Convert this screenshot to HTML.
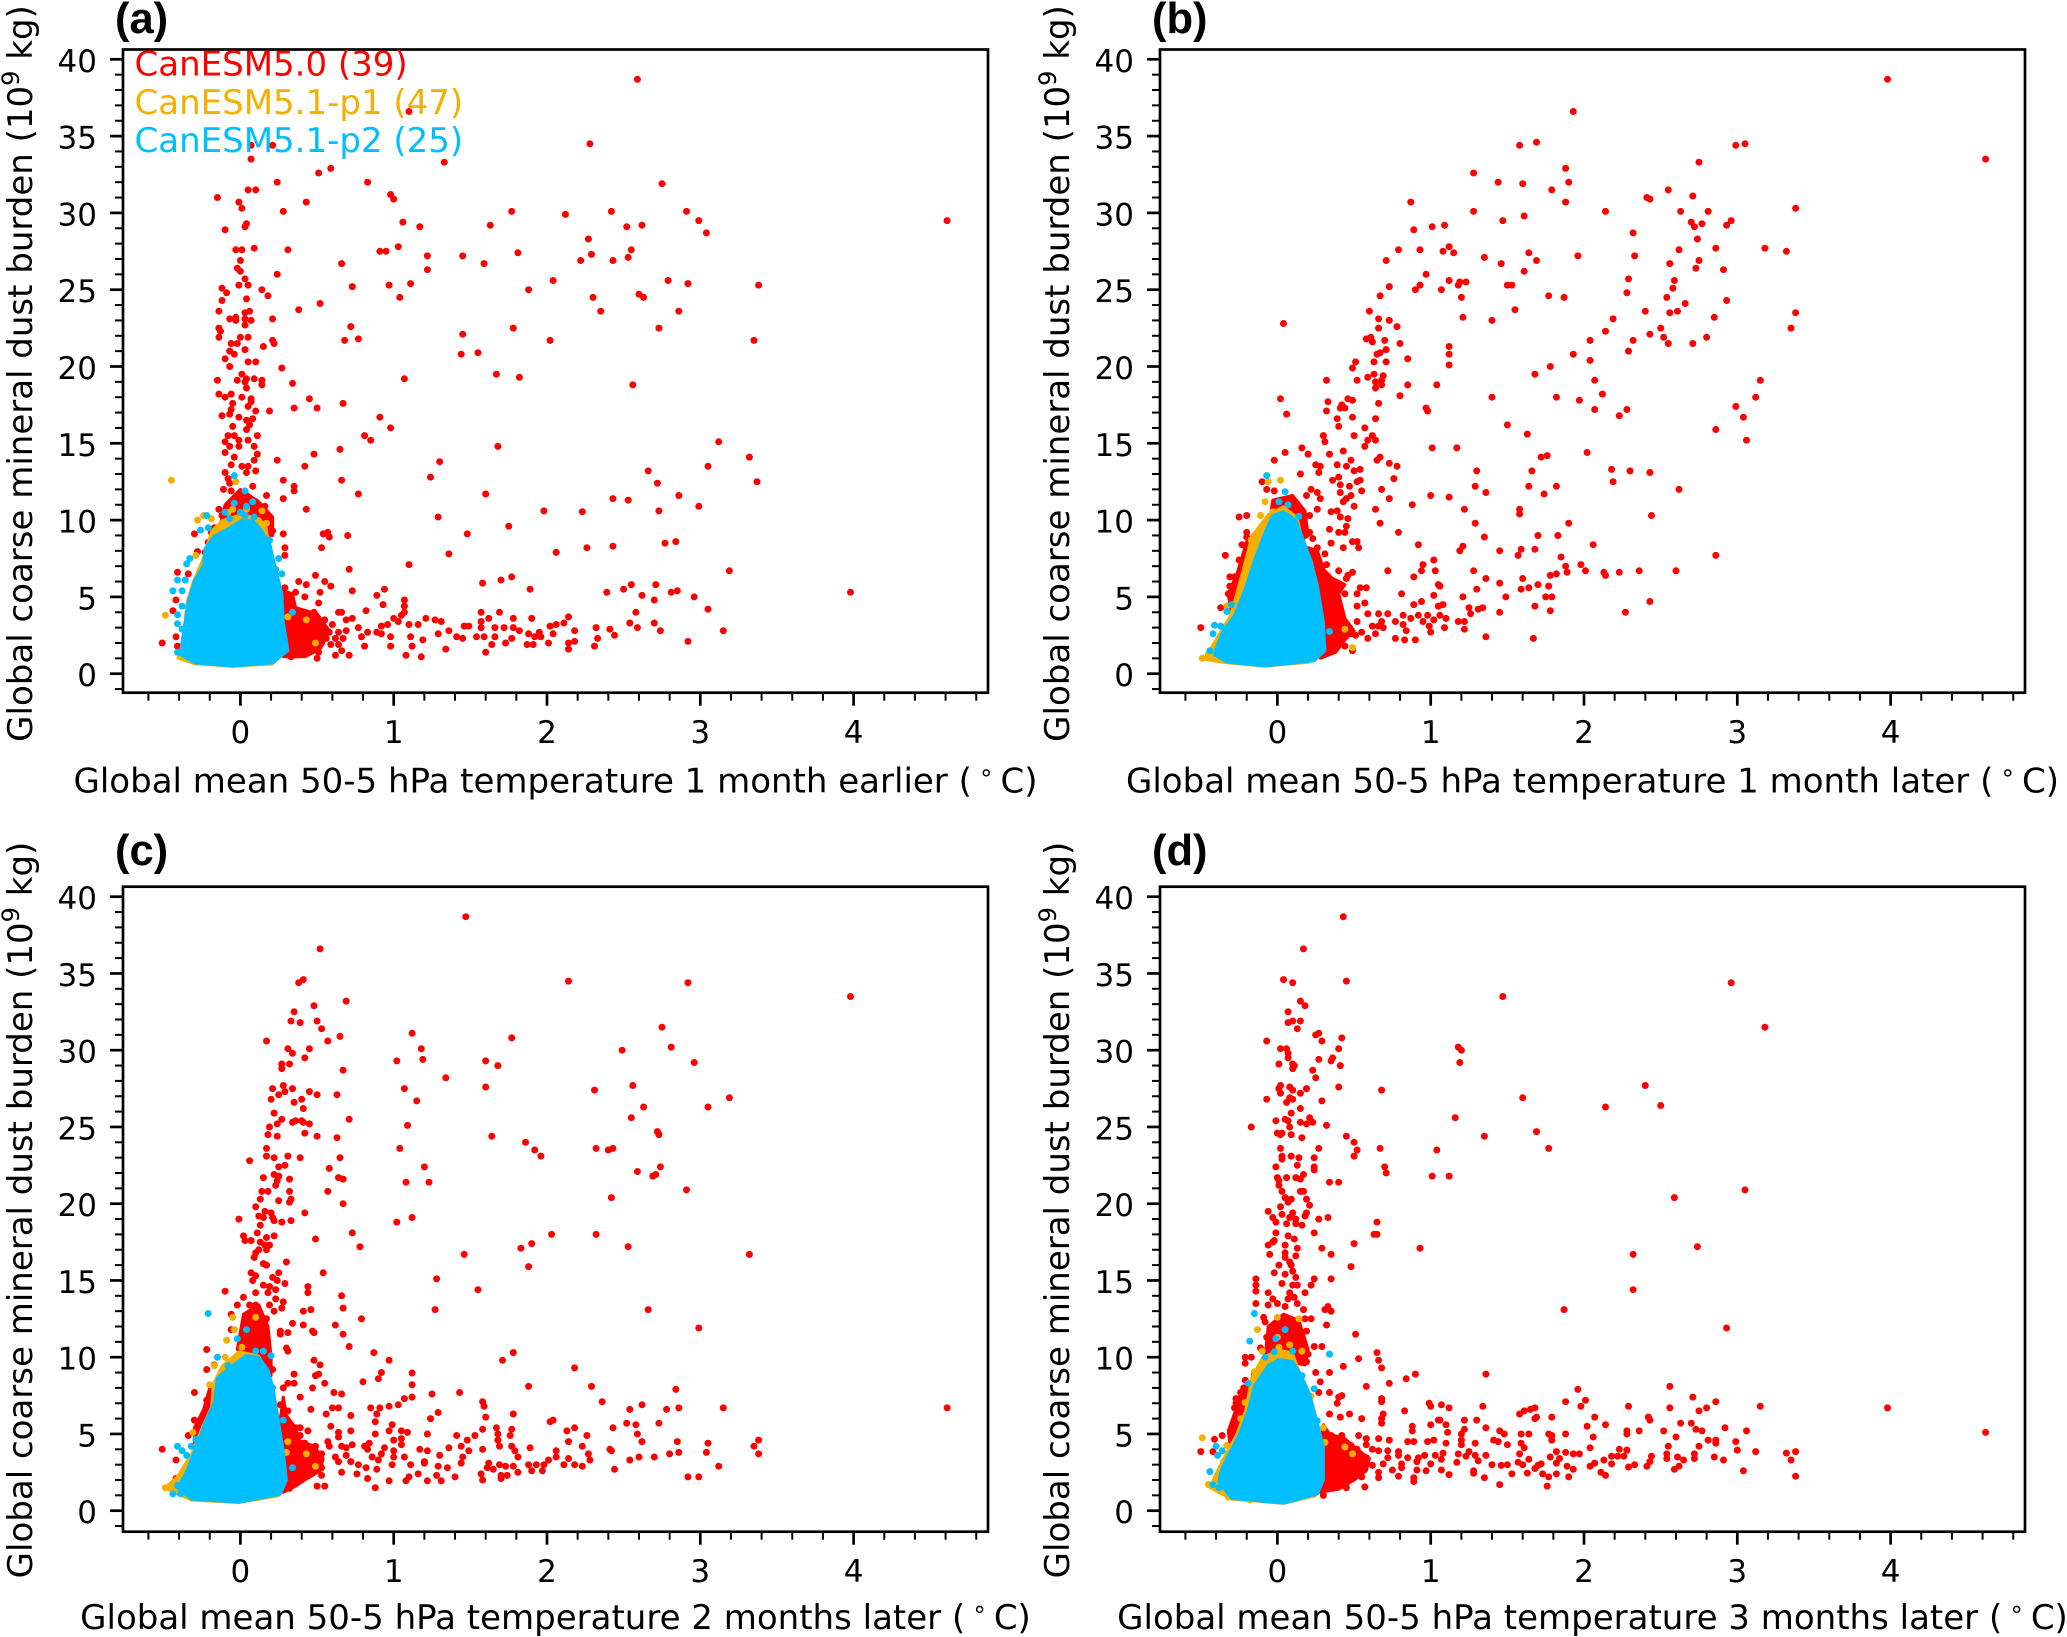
<!DOCTYPE html>
<html lang="en">
<head>
<meta charset="utf-8">
<title>Global coarse mineral dust burden vs stratospheric temperature</title>
<style>
html,body{margin:0;padding:0;background:#fff;}
svg{display:block;}
text{font-family:"DejaVu Sans","Liberation Sans",sans-serif;fill:#000;}
.panel-letter{font-family:"Liberation Sans",Arial,sans-serif;font-weight:bold;font-size:43.5px;}
.lab{font-size:34px;}
.tick{font-size:31px;}
</style>
</head>
<body>
<svg id="figure" xmlns="http://www.w3.org/2000/svg" width="2067" height="1637" viewBox="0 0 2067 1637"></svg>
<script>
const xTickLabels = [0,1,2,3,4];
const xMinorTicks = [-0.6,-0.4,-0.2,0.2,0.4,0.6,0.8,1.2,1.4,1.6,1.8,2.2,2.4,2.6,2.8,3.2,3.4,3.6,3.8,4.2,4.4,4.6,4.8];
const yTickLabels = [0,5,10,15,20,25,30,35,40];
const yMinorTicks = [-1,1,2,3,4,6,7,8,9,11,12,13,14,16,17,18,19,21,22,23,24,26,27,28,29,31,32,33,34,36,37,38,39];
const legendLabels = ["CanESM5.0 (39)","CanESM5.1-p1 (47)","CanESM5.1-p2 (25)"];

const redA = [[2.59,38.7],[1.10,36.6],[.07,34.4],[.21,34.4],[.07,33.5],[2.28,34.5],[1.33,33.3],[.59,32.9],[.51,32.6],[.24,32.0],[.83,32.0],[2.75,31.9],[.05,31.5],[.10,31.5],[-.15,31.0],[.98,31.2],[1.0,30.9],[-.01,30.7],[.43,30.7],[.01,30.3],[.28,30.1],[1.77,30.1],[2.12,29.9],[2.42,30.1],[2.91,30.1],[2.99,29.5],[3.04,28.7],[4.61,29.5],[2.52,29.1],[2.62,29.2],[1.06,29.4],[1.17,29.1],[1.63,29.2],[.04,29.3],[.03,29.1],[-.10,28.9],[2.27,28.3],[2.55,27.6],[-.03,27.6],[.01,27.6],[.09,27.7],[.31,27.6],[.91,27.5],[.95,27.5],[1.03,27.8],[1.22,27.2],[1.45,27.2],[1.81,27.4],[2.29,27.3],[2.53,27.1],[2.43,26.9],[2.22,26.9],[1.59,26.7],[.66,26.7],[0,26.9],[-.02,26.4],[0,26.2],[1.22,26.3],[.24,26.0],[.03,25.7],[2.04,25.6],[2.79,25.6],[2.92,25.4],[3.38,25.3],[-.01,25.3],[.05,25.3],[-.12,25.1],[.73,25.2],[.97,25.3],[1.11,25.4],[.14,25.0],[1.88,25.0],[-.09,24.8],[.18,24.6],[2.60,24.7],[2.63,24.5],[1.04,24.5],[2.30,24.5],[-.12,24.3],[.04,24.4],[.52,24.1],[.38,23.7],[-.14,23.6],[.06,23.6],[.03,23.5],[2.35,23.6],[2.86,23.6],[-.07,23.1],[-.03,23.2],[-.03,23.0],[.07,23.0],[.03,23.1],[.03,22.7],[.21,23.1],[.72,22.6],[1.78,22.5],[2.73,22.5],[-.14,22.5],[-.13,22.3],[-.14,21.9],[0,21.9],[.05,21.9],[1.45,22.1],[.68,21.7],[.77,21.8],[2.02,21.7],[3.35,21.7],[.21,21.7],[.22,21.5],[-.06,21.5],[-.02,21.5],[.15,21.3],[-.07,21.0],[.03,21.1],[-.04,20.8],[1.44,20.8],[1.55,20.9],[-.10,20.5],[.05,20.3],[.10,20.3],[-.07,20.0],[.27,19.9],[1.67,19.5],[1.07,19.2],[1.82,19.3],[2.56,18.8],[-.15,19.1],[.01,19.5],[-.02,19.1],[.04,19.2],[.09,19.2],[.03,19.0],[.14,19.1],[.14,18.8],[.04,18.6],[.34,18.9],[-.14,18.2],[-.10,18.0],[-.06,18.2],[.01,18.0],[.07,17.9],[.07,17.7],[.45,17.9],[.67,17.6],[-.05,17.6],[-.06,17.2],[.05,17.4],[.50,17.3],[.35,17.3],[.19,17.1],[.10,17.1],[-.07,16.9],[-.12,16.8],[-.01,16.7],[.08,16.6],[.04,16.5],[.91,16.7],[-.05,16.1],[.06,16.2],[.98,16.0],[.04,15.9],[-.08,15.5],[-.04,15.5],[.11,15.5],[.81,15.5],[.85,15.2],[-.10,15.1],[-.01,15.2],[.05,15.2],[-.07,14.8],[-.01,14.8],[.09,14.8],[1.68,14.8],[3.12,15.1],[-.10,14.4],[.11,14.3],[.48,14.3],[.65,14.6],[-.04,14.1],[.09,13.9],[.24,13.9],[1.3,13.8],[3.32,14.1],[-.06,13.6],[.01,13.5],[.05,13.5],[.10,13.2],[.42,13.5],[3.05,13.5],[-.10,13.1],[.04,13.1],[2.66,13.2],[-.08,12.7],[1.24,12.8],[.28,12.6],[.66,12.6],[3.37,12.5],[2.72,12.4],[-.07,12.4],[.08,12.2],[.35,12.2],[.35,11.9],[-.11,12.0],[-.06,11.9],[.77,11.7],[1.60,11.7],[.17,11.6],[2.86,11.6],[2.43,11.4],[2.53,11.3],[.28,11.4],[-.14,10.7],[.16,10.9],[.43,10.7],[2.99,10.9],[1.98,10.6],[2.23,10.55],[2.73,10.6],[1.29,10.2],[1.75,9.6],[1.48,9.1],[.57,9.2],[.54,9.1],[.58,8.9],[.70,9.0],[.28,9.1],[.21,9.3],[-.30,9.1],[-.19,9.2],[-.21,8.55],[-.23,7.9],[-.28,7.95],[.10,10.8],[.13,10.4],[.06,11.35],[.01,10.95],[-.06,11.2],[-.12,10.3],[-.17,9.5],[-.01,11.6],[.04,11.6],[.1,11.2],[.16,10.15],[.18,9.75],[.53,8.2],[.29,8.2],[.29,7.7],[1.36,7.8],[2.06,7.9],[2.26,8.2],[2.43,8.3],[2.77,8.5],[2.84,8.6],[1.10,7.1],[.71,6.8],[3.19,6.7],[.49,6.4],[1.77,6.3],[1.70,6.1],[1.58,5.9],[.38,6.0],[.55,6.0],[.43,5.8],[.59,5.7],[2.55,5.8],[2.50,5.5],[2.71,5.8],[1.89,5.5],[.94,5.5],[.73,5.4],[.52,5.3],[.36,5.3],[.89,5.1],[2.39,5.3],[2.81,5.3],[2.85,5.4],[2.62,5.1],[2.96,5.0],[3.98,5.3],[.42,5.0],[2.70,4.8],[1.07,4.8],[.29,5.6],[.28,5.1],[.31,4.8],[.30,4.5],[.33,4.3],[.29,4.2],[.51,4.6],[.93,4.5],[1.07,4.4],[3.05,4.2],[1.57,4.0],[1.69,4.0],[2.58,4.0],[.82,4.1],[.42,4.0],[.48,4.0],[.64,4.0],[.66,4.0],[1.07,4.0],[1.05,3.8],[1.0,3.6],[.96,3.2],[1.03,3.4],[1.21,3.6],[1.27,3.5],[1.31,3.4],[1.10,3.2],[1.16,3.2],[.92,3.1],[2.14,3.7],[1.90,3.6],[1.78,3.6],[1.62,3.6],[1.57,3.4],[2.11,3.3],[2.06,3.2],[2.02,3.1],[2.32,3.0],[2.41,2.9],[2.54,3.3],[2.59,3.0],[2.70,3.3],[2.74,2.8],[3.15,2.8],[2.92,2.1],[2.44,2.5],[2.33,2.3],[2.31,1.8],[2.18,2.8],[2.18,2.1],[2.14,2.0],[2.14,1.6],[2.01,2.0],[1.95,2.7],[1.96,2.4],[1.92,2.4],[1.88,2.6],[1.91,1.9],[1.87,1.9],[1.77,2.3],[1.73,2.0],[1.64,1.9],[1.60,1.4],[1.54,2.4],[1.46,3.1],[1.49,3.1],[1.41,2.4],[1.45,2.3],[1.34,1.6],[1.29,2.6],[1.36,2.8],[1.19,2.2],[1.11,2.4],[1.12,1.8],[1.08,1.2],[1.18,1.1],[.98,2.4],[.92,2.6],[.98,1.8],[.89,2.7],[.83,2.7],[.77,3.0],[.79,2.4],[.81,1.8],[.71,1.2],[.66,1.5],[.50,1.0],[.59,1.9],[.53,2.0],[.69,2.8],[.67,2.3],[.64,1.9],[.62,1.2],[.56,2.3],[.49,2.6],[.46,1.8],[.40,1.5],[.33,1.1],[.37,2.0],[.39,2.6],[.35,3.1],[.31,3.5],[.44,3.4],[.42,2.8],[.55,3.5],[.60,3.2],[.48,3.2],[.53,3.0],[.64,2.7],[.73,3.6],[.69,3.5],[1.57,3.0],[1.66,3.0],[1.72,3.0],[1.59,2.4],[1.66,2.4],[1.78,3.0],[1.82,2.8],[2.04,2.6],[.31,2.8],[.31,2.0],[.35,1.6],[.42,2.2],[.48,2.0],[.51,1.4],[.58,2.7],[.62,2.3],[.31,1.5],[-.41,6.6],[-.34,6.5],[-.42,4.8],[-.44,4.1],[-.42,2.4],[-.51,2.0],[-.41,1.8]];
const orangeA = [[-.45,12.6],[-.49,3.8],[-.28,10.0],[-.08,10.5],[-.05,10.7],[.04,10.7],[.14,10.6],[.17,9.8],[-.03,12.5],[-.24,10.3],[-.19,10.1],[-.29,7.7],[.2,7.2],[.43,3.5],[.49,2.0],[.31,3.7],[-.39,1.1],[-.33,1.5]];
const blueA = [[-.04,12.9],[.03,11.9],[-.04,11.1],[.08,11.2],[.03,10.3],[-.22,10.3],[-.21,9.5],[-.26,9.35],[-.33,7.5],[-.35,7.15],[-.41,6.1],[-.36,6.1],[-.44,5.4],[-.38,5.4],[-.41,3.85],[-.38,4.4],[-.41,3.25],[-.38,2.9],[-.41,1.4],[.19,8.7],[.25,7.5],[.23,6.8],[.27,6.5],[.34,4.0],[0,10.5],[-.07,10.1],[.09,10.2],[.04,10.9],[-.1,10.5]];
const redCoresA = [[[.28,1.1],[.42,1.1],[.52,1.6],[.58,2.8],[.5,3.9],[.36,4.3],[.34,5.2],[.28,5.4]],[[-.14,9.3],[-.1,11.0],[0,12.0],[.12,11.2],[.21,10.2],[.21,9.0]]];
const orangeCoreA = [[-.41,1.0],[-.30,.62],[-.05,.46],[.21,.6],[.3,1.5],[.27,3.37],[.26,5.2],[.2,7.6],[.17,9.5],[.13,10.1],[.01,10.4],[-.12,10.0],[-.19,9.3],[-.25,7.4],[-.31,6.0],[-.35,4.7],[-.38,2.0]];
const blueCoreA = [[-.39,1.24],[-.30,.71],[-.05,.49],[.21,.71],[.31,1.5],[.28,3.37],[.27,5.23],[.24,6.42],[.21,7.62],[.19,8.55],[.13,9.43],[.08,9.96],[.01,10.0],[-.08,9.43],[-.17,8.95],[-.23,8.15],[-.24,7.09],[-.30,6.03],[-.34,4.7],[-.36,3.37],[-.38,2.04]];

const redB = [[3.98,38.7],[1.93,36.6],[1.58,34.4],[1.69,34.6],[2.99,34.4],[3.05,34.5],[2.75,33.3],[4.62,33.5],[1.88,32.9],[1.28,32.6],[1.44,32.0],[1.60,31.9],[1.90,32.0],[1.79,31.5],[2.55,31.5],[2.71,31.1],[2.41,31.0],[2.43,30.9],[.87,30.7],[1.88,30.7],[3.38,30.3],[1.28,30.1],[1.61,29.8],[2.14,30.1],[2.63,30.1],[2.81,30.1],[1.47,29.5],[2.96,29.5],[2.93,29.2],[2.70,29.4],[2.72,29.1],[2.77,29.3],[1.01,29.1],[1.09,29.2],[.89,28.9],[2.32,28.7],[2.74,28.3],[.79,27.6],[.93,27.6],[1.08,27.5],[1.12,27.8],[1.15,27.4],[1.35,27.1],[1.64,27.4],[1.96,27.2],[2.33,27.2],[2.62,27.6],[2.86,27.7],[3.18,27.7],[3.32,27.5],[1.69,26.9],[1.46,26.7],[.71,26.9],[2.56,26.7],[2.75,26.9],[2.73,26.4],[2.91,26.3],[1.61,26.2],[.97,26.0],[1.12,25.6],[1.19,25.5],[1.23,25.5],[1.18,25.3],[2.29,25.7],[2.59,25.6],[.93,25.3],[.73,25.2],[.90,25.0],[1.07,25.0],[1.50,25.3],[1.53,25.3],[2.58,25.1],[2.28,24.8],[.67,24.6],[1.20,24.5],[1.77,24.6],[1.87,24.5],[2.54,24.5],[2.93,24.3],[2.66,24.1],[.60,23.6],[1.55,23.7],[2.40,23.6],[2.56,23.5],[2.61,23.6],[3.38,23.5],[.04,22.8],[.66,23.1],[.73,23.0],[1.21,23.2],[1.40,23.0],[2.19,23.1],[2.85,23.2],[.78,22.6],[.66,22.5],[2.14,22.3],[2.50,22.5],[3.35,22.5],[2.43,22.1],[2.52,21.9],[2.80,21.9],[2.32,21.7],[2.04,21.7],[.58,21.8],[.61,21.9],[.62,21.6],[.70,21.7],[.80,21.5],[2.55,21.5],[2.71,21.5],[1.12,21.3],[.71,21.1],[2.29,21.0],[.65,20.8],[.67,20.9],[1.12,20.8],[1.93,20.8],[.85,20.5],[.51,20.3],[.63,20.3],[.71,20.3],[2.04,20.4],[1.12,20.1],[1.78,20.0],[.49,19.9],[1.68,19.5],[.59,19.3],[.63,19.5],[.69,19.4],[.32,19.1],[.52,19.1],[2.07,19.1],[3.15,19.1],[.64,19.0],[.68,19.1],[.85,18.8],[1.04,18.8],[.68,18.8],[.64,18.6],[.80,18.1],[2.12,18.2],[.02,17.9],[.46,17.9],[.49,17.8],[1.40,18.0],[1.82,18.0],[3.12,18.0],[.33,17.7],[.66,17.6],[1.97,17.8],[.42,17.5],[.41,17.3],[.44,17.3],[.97,17.3],[.32,17.1],[.98,17.1],[2.07,17.2],[2.28,17.2],[2.99,17.4],[.06,16.9],[.49,16.7],[.64,16.6],[2.23,16.8],[3.04,16.7],[.39,16.6],[.40,16.1],[1.50,16.2],[.57,16.0],[2.86,15.9],[.30,15.5],[.50,15.5],[1.63,15.6],[.62,15.5],[.31,15.1],[.59,15.2],[.64,15.2],[3.06,15.2],[.57,14.8],[.16,14.7],[1.01,14.7],[1.17,14.7],[.43,14.5],[.05,14.4],[.20,14.3],[.34,14.3],[2.02,14.4],[1.76,14.2],[1.72,14.1],[-.02,13.9],[.48,13.9],[.67,14.1],[.65,13.9],[.25,13.6],[.28,13.5],[.39,13.6],[.45,13.5],[.54,13.3],[.50,13.2],[.73,13.7],[.78,13.5],[1.30,13.2],[1.66,13.2],[2.18,13.3],[2.30,13.2],[2.43,13.1],[.15,13.0],[.27,13.1],[.40,12.8],[.36,12.6],[.76,12.7],[.52,12.5],[.54,12.6],[2.19,12.5],[-.10,12.5],[1.29,12.2],[1.64,12.2],[1.82,12.2],[.41,12.3],[.47,12.2],[2.62,12.0],[.68,12.0],[.55,11.9],[-.07,12.0],[-.02,11.9],[.22,12.0],[1.36,11.8],[1.0,11.6],[1.12,11.5],[1.74,11.7],[.41,11.8],[.19,11.6],[.26,11.8],[.48,11.6],[.45,11.4],[.28,11.4],[.73,11.4],[.43,11.2],[.88,11.0],[.50,10.9],[1.22,10.7],[1.58,10.7],[1.58,10.4],[.64,10.7],[.13,10.9],[.26,10.7],[.35,10.55],[.39,10.6],[2.44,10.3],[-.25,10.2],[-.20,10.3],[.41,10.2],[.46,10.1],[.67,9.8],[.21,10.3],[1.29,9.8],[1.90,9.8],[.45,9.6],[.34,9.4],[.79,9.2],[.21,9.2],[.40,9.2],[.44,9.2],[-.20,9.2],[-.20,8.9],[1.70,9.0],[1.83,9.0],[.23,8.8],[1.35,8.9],[.49,8.6],[.52,8.6],[.35,8.5],[.92,8.4],[2.06,8.4],[-.23,8.4],[.26,8.2],[.43,8.2],[.53,8.2],[1.21,8.3],[1.19,8.0],[1.45,8.0],[1.59,8.1],[1.68,8.1],[1.57,7.7],[1.85,7.6],[2.86,7.7],[-.34,7.7],[.31,7.8],[.25,7.6],[-.25,7.4],[1.02,7.4],[.32,7.1],[.95,7.1],[1.98,7.1],[1.88,7.0],[.72,6.7],[.94,6.7],[1.03,6.7],[1.28,6.7],[1.89,6.6],[2.01,6.7],[2.13,6.6],[2.23,6.6],[2.36,6.7],[2.60,6.7],[2.14,6.4],[.40,6.7],[.46,6.4],[.49,6.6],[.45,6.2],[1.82,6.5],[1.78,6.4],[-.31,6.3],[-.28,6.3],[-.22,6.7],[.89,6.3],[1.36,6.2],[1.60,6.2],[1.05,5.8],[1.06,5.7],[1.45,5.9],[1.70,5.8],[1.77,5.7],[-.31,5.7],[.39,5.8],[.54,5.6],[.58,5.6],[1.59,5.5],[1.64,5.6],[1.30,5.5],[.33,5.4],[.44,5.2],[-.32,5.2],[.37,5.2],[.52,5.2],[.81,5.2],[1.02,5.1],[1.21,5.0],[1.49,5.0],[1.75,5.0],[1.79,5.0],[-.28,5.0],[2.43,4.7],[.57,4.6],[.52,4.4],[.89,4.5],[.94,4.7],[1.08,4.5],[1.05,4.4],[1.68,4.4],[1.25,4.3],[1.31,4.2],[1.34,4.3],[-.37,4.3],[.37,4.4],[1.78,4.1],[2.27,4.0],[1.26,3.9],[1.45,4.0],[.59,3.9],[.66,3.9],[.72,3.9],[.42,3.7],[.82,3.8],[.87,3.6],[.92,3.8],[.98,3.8],[1.06,3.8],[1.10,3.6],[1.02,3.5],[1.18,3.4],[1.22,3.4],[.52,3.4],[.77,3.4],[.68,3.4],[.95,3.4],[.82,3.2],[.62,3.1],[.66,3.1],[.69,3.0],[.99,3.1],[1.09,3.0],[1.22,2.9],[.84,2.8],[1.0,2.7],[.55,2.7],[.64,2.6],[.48,2.6],[.51,2.5],[.40,2.4],[.59,2.3],[.77,2.3],[.83,2.2],[.90,2.2],[1.36,2.4],[1.67,2.3],[.49,1.5],[.44,1.8],[.37,1.7],[.39,2.2],[.35,2.8],[.33,3.4],[-.50,3.0]];
const orangeB = [[-.49,1.0],[-.45,1.25],[.49,1.7],[.44,2.9],[-.06,12.5],[.02,12.6],[-.08,11.2],[-.11,10.3],[-.03,10.55],[-.17,8.7],[-.15,9.0],[-.14,8.55],[-.17,8.0],[-.15,7.6],[-.33,4.4],[-.23,5.55]];
const blueB = [[-.07,12.9],[.05,11.85],[.01,11.2],[.07,11.0],[.14,10.25],[-.30,4.5],[-.41,3.15],[-.37,3.1],[-.42,2.6],[-.44,1.5],[.34,2.75],[.24,5.9],[-.33,4.05]];
const redCoresB = [[[.28,1.0],[.38,1.4],[.44,2.2],[.5,2.8],[.44,3.6],[.4,5.2],[.44,5.8],[.36,6.2],[.3,6.8],[.28,5]],[[-.05,10.0],[-.03,11.3],[.1,11.6],[.18,10.6],[.2,9.0],[.15,8.6]],[[-.3,3.8],[-.32,5.2],[-.26,6.6],[-.2,8.6],[-.16,8.6],[-.2,6.5],[-.24,5],[-.28,3.8]],[[.2,8.2],[.26,8.0],[.31,6.6],[.33,5],[.3,4],[.27,6]]];
const orangeCoreB = [[-.48,.92],[-.33,.68],[-.08,.46],[.2,.7],[.3,1.5],[.28,3.37],[.24,5.76],[.2,7.35],[.16,8.95],[.13,10.2],[.04,10.9],[-.06,10.4],[-.17,8.95],[-.21,7.35],[-.26,5.5],[-.31,3.77],[-.41,2.1]];
const blueCoreB = [[-.41,1.24],[-.33,.76],[-.08,.5],[.24,.84],[.31,1.5],[.30,3.37],[.26,5.76],[.22,7.35],[.16,8.95],[.12,10.0],[.04,10.55],[-.03,10.3],[-.08,9.2],[-.15,7.35],[-.21,5.5],[-.28,3.77],[-.35,2.84],[-.39,1.9]];

const redC = [[1.47,38.7],[.52,36.6],[.38,34.4],[.41,34.6],[2.14,34.5],[2.92,34.4],[3.98,33.5],[.69,33.2],[.48,32.9],[.35,32.5],[.33,31.9],[.39,31.8],[.50,31.9],[.53,31.4],[2.75,31.5],[1.12,31.1],[1.77,30.8],[.17,30.6],[.57,30.6],[.65,30.9],[1.18,30.1],[.31,30.1],[.45,30.1],[.34,29.8],[2.49,30.0],[2.81,30.2],[.42,29.5],[1.02,29.3],[1.19,29.4],[1.60,29.3],[1.68,29.0],[2.96,29.2],[.32,29.1],[.27,29.1],[.27,28.8],[.67,28.7],[1.34,28.2],[2.56,27.7],[.28,27.7],[.21,27.5],[.34,27.5],[.29,27.3],[.25,27.1],[.45,27.3],[.50,27.1],[.63,27.1],[1.07,27.5],[1.60,27.6],[2.31,27.4],[.20,26.8],[.40,26.8],[.35,26.6],[1.15,26.7],[3.19,26.9],[.41,26.2],[2.63,26.3],[3.05,26.3],[.22,25.9],[.27,25.5],[.71,25.5],[2.55,25.6],[.34,25.3],[.36,25.4],[.40,25.4],[.41,25.3],[.45,25.2],[.24,25.2],[.19,25.0],[1.09,25.1],[.42,24.6],[.18,24.5],[.24,24.4],[.50,24.4],[.63,24.3],[1.64,24.4],[2.72,24.7],[2.73,24.5],[1.86,24.0],[1.92,23.5],[1.96,23.1],[.17,23.6],[1.04,23.6],[2.32,23.6],[2.40,23.5],[2.43,23.6],[.17,23.1],[.22,23.0],[.31,23.1],[.39,23.0],[.65,23.0],[.06,22.8],[.25,22.4],[.29,22.5],[.58,22.3],[1.20,22.4],[2.74,22.4],[2.59,22.1],[2.69,21.8],[2.71,21.9],[.15,21.7],[.22,21.9],[.25,21.8],[.24,21.5],[.23,21.2],[.32,21.6],[.64,21.7],[.67,21.6],[1.08,21.4],[1.23,21.4],[.14,20.8],[.18,20.8],[.32,20.8],[.57,20.8],[2.91,20.9],[2.42,20.4],[.13,20.3],[.25,20.2],[.33,20.3],[.32,20.1],[.10,19.8],[.67,20.0],[.16,19.5],[.42,19.4],[.12,19.2],[.15,19.1],[.20,19.4],[.21,19.1],[-.01,19.0],[.22,18.9],[1.12,19.1],[1.02,18.8],[.27,18.8],[.33,18.9],[.13,18.6],[.73,18.1],[2.03,18.0],[2.32,18.0],[.11,18.1],[.02,17.9],[.17,17.8],[.22,17.9],[.49,17.7],[.03,17.6],[.07,17.6],[.13,17.5],[.16,17.3],[.19,17.3],[.78,17.2],[1.90,17.4],[1.83,17.1],[2.53,17.2],[.12,17.0],[.17,17.0],[.10,16.8],[.09,16.5],[1.46,16.7],[3.32,16.7],[.15,16.1],[.17,16.0],[.30,16.2],[1.88,15.9],[.07,15.5],[.25,15.5],[.54,15.5],[.10,15.3],[.08,15.0],[.21,15.2],[.24,15.0],[1.28,15.1],[.15,14.7],[.29,14.8],[.19,14.6],[.44,14.6],[.44,14.2],[-.10,14.3],[.10,14.2],[.18,14.2],[.23,14.4],[1.55,14.4],[.02,13.9],[.66,14.0],[.23,13.8],[.28,13.6],[-.02,13.4],[.06,13.4],[.10,13.4],[.19,13.4],[.67,13.2],[.27,13.2],[1.27,13.1],[2.66,13.1],[.41,13.0],[.46,13.1],[.22,13.0],[-.06,12.8],[.17,12.5],[.79,12.5],[.34,12.2],[.41,12.1],[.62,12.1],[2.99,11.9],[.13,12.0],[-.06,11.8],[.47,11.7],[.48,11.6],[.26,11.7],[.26,11.5],[.31,11.6],[.67,11.5],[.10,11.4],[.15,11.4],[.08,11.0],[.71,10.7],[.15,10.8],[.06,10.6],[.30,10.6],[.31,10.4],[-.22,10.5],[.87,10.3],[1.78,10.3],[1.71,9.8],[.97,9.8],[.48,9.8],[.52,9.5],[2.18,9.3],[-.17,9.5],[-.22,9.2],[.16,9.1],[.21,9.2],[.35,8.9],[.49,8.8],[.51,8.9],[.92,9.0],[1.12,8.97],[.90,8.6],[.18,8.8],[.31,8.3],[.35,8.3],[.55,8.3],[.80,8.4],[1.12,8.2],[1.88,8.1],[2.29,8.1],[2.84,7.9],[.47,8.0],[.28,8.0],[-.30,7.7],[.61,7.7],[.66,7.6],[1.25,7.6],[1.43,7.7],[.39,7.4],[1.07,7.3],[1.12,7.4],[-.22,7.2],[2.36,7.1],[1.58,7.1],[1.59,6.8],[2.62,6.9],[.26,6.9],[2.86,6.7],[3.15,6.7],[4.61,6.7],[.85,6.7],[.91,6.7],[.97,6.8],[1.03,6.9],[.60,6.7],[.64,6.7],[.31,6.5],[.46,6.6],[2.54,6.6],[2.78,6.6],[.89,6.3],[1.29,6.4],[1.78,6.3],[.56,6.3],[-.24,6.3],[-.21,6.4],[.72,6.2],[1.24,6.0],[1.60,6.1],[2.02,5.8],[2.04,5.9],[.88,5.8],[-.30,5.9],[2.52,5.7],[2.73,5.7],[2.58,5.6],[.59,5.5],[.99,5.6],[.36,5.4],[.39,5.4],[1.58,5.3],[1.67,5.4],[1.77,5.3],[2.18,5.4],[2.43,5.4],[.44,5.2],[.72,5.2],[.97,5.2],[1.05,5.2],[1.09,5.1],[2.13,5.2],[2.59,5.0],[1.22,5.0],[.39,4.9],[.64,5.1],[.64,4.8],[.88,5.0],[1.41,4.9],[1.53,4.9],[1.68,5.0],[1.76,4.9],[2.26,4.9],[-.34,4.9],[.33,4.8],[1.0,4.6],[1.05,4.7],[1.48,4.6],[1.68,4.6],[2.14,4.5],[2.62,4.5],[2.85,4.5],[3.05,4.4],[3.38,4.6],[.57,4.5],[.36,4.4],[.42,4.4],[.73,4.3],[.84,4.4],[1.05,4.3],[1.69,4.2],[.81,4.2],[.49,4.2],[.58,4.2],[.66,4.2],[.69,4.1],[3.35,4.2],[1.58,4.0],[1.49,3.9],[1.44,4.2],[1.36,4.1],[1.22,3.9],[1.17,4.0],[.94,4.1],[.92,3.7],[1.0,3.9],[.83,4.0],[1.77,4.2],[1.89,4.1],[1.79,3.9],[2.06,3.9],[2.23,4.2],[2.41,4.0],[2.42,3.9],[2.80,3.7],[2.86,3.8],[3.04,3.8],[3.38,3.7],[2.70,3.5],[2.60,3.5],[2.54,3.3],[2.44,2.7],[2.28,3.3],[2.27,3.7],[2.14,3.4],[2.06,3.5],[2.01,3.3],[2.18,3.0],[2.23,2.9],[2.11,3.0],[1.98,3.0],[1.93,3.0],[1.88,3.0],[1.81,3.5],[1.78,2.9],[1.73,2.9],[1.69,3.0],[1.62,3.1],[1.45,3.5],[1.30,3.6],[1.20,3.2],[1.07,3.5],[1.0,3.5],[.90,3.3],[.86,3.5],[.69,3.6],[.62,3.5],[.53,3.7],[.44,3.7],[.37,3.7],[.39,3.3],[.51,3.3],[.45,3.1],[.48,2.8],[.64,3.2],[.72,3.2],[.77,3.0],[.82,2.8],[.99,3.0],[1.11,3.0],[1.2,3.1],[1.29,2.9],[1.35,2.8],[1.44,3.1],[1.61,2.8],[1.65,2.7],[1.81,2.5],[1.90,2.6],[1.97,2.6],[3.12,2.9],[1.74,2.3],[1.70,2.3],[1.57,2.4],[1.40,2.2],[1.28,2.3],[1.16,2.4],[1.10,2.2],[.89,2.7],[.83,2.1],[.76,2.4],[.66,2.5],[.53,2.3],[.53,2.8],[.42,2.3],[.33,2.1],[.97,1.95],[1.08,1.95],[1.22,1.95],[1.31,1.95],[1.58,2.0],[1.70,2.1],[2.92,2.2],[2.99,2.2],[.50,1.6],[.55,1.6],[.88,1.5],[.32,1.45],[-.51,4.0],[-.42,3.3],[-.42,2.1]];
const orangeC = [[-.05,12.6],[.1,12.6],[-.04,11.8],[-.09,11.1],[.01,10.65],[-.17,9.45],[-.10,10.0],[-.2,8.2],[-.31,5.1],[.31,4.5],[.30,3.8],[.43,3.7],[.49,2.9],[-.49,1.5],[-.45,1.6]];
const blueC = [[-.21,12.85],[.04,11.8],[-.02,11.2],[.1,10.4],[.15,10.4],[.2,10.1],[-.15,10.0],[-.08,9.45],[.21,8.0],[-.41,4.2],[-.38,3.9],[-.32,4.2],[-.29,4.65],[-.35,3.6],[.28,5.9],[.34,2.8],[-.44,1.1],[-.39,1.1],[-.41,1.65]];
const redCoresC = [[[.28,1.2],[.36,1.6],[.42,2.0],[.52,2.6],[.54,3.4],[.48,4.2],[.38,4.6],[.36,5.4],[.3,6.2],[.28,7.4],[.26,6]],[[-.02,10.5],[.02,12.8],[.12,13.4],[.18,12],[.2,10],[.2,8.8],[.12,9.5]],[[-.3,4],[-.3,5.4],[-.24,6.6],[-.2,8],[-.17,8],[-.2,6.5],[-.27,4.5]]];
const orangeCoreC = [[-.50,1.47],[-.32,.66],[-.01,.5],[.25,.94],[.29,2.0],[.27,3.87],[.24,5.73],[.2,8.12],[.17,9.3],[.12,10.1],[-.01,10.4],[-.12,9.45],[-.18,8.25],[-.19,6.79],[-.25,5.46],[-.32,3.73],[-.41,2.27]];
const blueCoreC = [[-.41,1.47],[-.32,.76],[-.01,.55],[.26,1.08],[.30,2.0],[.28,3.87],[.25,5.73],[.21,8.12],[.18,9.18],[.12,9.98],[.04,10.11],[-.05,9.45],[-.15,8.65],[-.17,7.05],[-.23,5.73],[-.30,3.87],[-.35,2.54]];

const redD = [[.43,38.7],[.17,36.6],[.04,34.6],[.10,34.4],[.45,34.5],[2.96,34.4],[1.47,33.5],[.15,33.2],[.18,32.9],[.07,32.5],[.15,31.9],[.10,31.9],[.07,31.8],[.13,31.4],[3.18,31.5],[.25,31.0],[.27,31.1],[.42,30.8],[-.07,30.6],[.29,30.6],[.40,30.1],[.02,30.1],[.06,30.1],[1.18,30.2],[1.20,30.0],[.07,29.8],[.07,29.5],[.27,29.4],[.36,29.5],[.35,29.3],[.01,29.1],[.10,29.1],[.11,29.0],[.41,29.0],[1.19,29.2],[.10,28.8],[.23,28.7],[.25,28.2],[2.40,27.7],[.02,27.7],[.08,27.6],[.40,27.6],[.01,27.5],[.10,27.4],[.19,27.5],[.68,27.4],[.02,27.2],[.15,27.2],[.08,26.9],[-.07,26.8],[.06,26.6],[.10,26.8],[.29,26.7],[1.60,26.9],[2.14,26.3],[2.50,26.4],[.15,26.2],[.09,25.9],[1.16,25.6],[.21,25.6],[.05,25.5],[-.01,25.4],[.07,25.4],[.15,25.3],[.19,25.2],[.23,25.3],[.08,25.0],[.32,25.1],[-.17,25.0],[1.69,24.7],[0,24.6],[.02,24.5],[.03,24.6],[.09,24.5],[.16,24.3],[1.35,24.4],[.45,24.4],[.50,24.0],[.27,23.6],[.02,23.6],[.67,23.6],[1.77,23.6],[.52,23.5],[1.04,23.5],[.09,23.1],[.03,23.1],[.03,22.9],[.14,23.0],[.24,23.0],[.50,23.1],[-.01,22.4],[.13,22.5],[.24,22.4],[.24,22.2],[.70,22.4],[.71,22.0],[1.01,21.8],[1.12,21.8],[.17,21.9],[.06,21.7],[.12,21.7],[.15,21.6],[0,21.7],[.01,21.5],[.34,21.4],[.40,21.4],[.01,21.2],[.03,20.8],[.15,20.8],[.17,20.8],[3.05,20.9],[2.59,20.4],[.05,20.4],[.07,20.1],[.09,20.3],[.19,20.3],[.21,19.9],[.02,19.8],[-.06,19.5],[.03,19.3],[.10,19.4],[.19,19.4],[.18,19.2],[-.03,19.1],[.08,19.1],[.12,19.0],[.27,19.0],[.33,19.1],[-.01,18.8],[.06,18.7],[.12,18.7],[.16,18.6],[.65,18.8],[.24,18.1],[.63,18.0],[.65,18.0],[-.01,18.1],[.07,17.9],[.11,17.7],[-.02,17.6],[-.03,17.5],[-.06,17.3],[.05,17.3],[.13,17.1],[.29,17.1],[.50,17.4],[2.74,17.2],[.93,17.1],[-.05,16.7],[.05,16.8],[.05,16.5],[.12,16.6],[.35,16.7],[2.32,16.7],[.08,16.2],[.01,16.0],[.09,16.0],[.48,15.9],[-.02,15.5],[.05,15.4],[.10,15.6],[.12,15.2],[.24,15.1],[.35,15.1],[-.14,15.1],[-.14,14.7],[-.14,14.3],[.03,14.8],[.10,14.7],[.13,14.7],[.22,14.7],[2.32,14.4],[-.06,14.2],[.08,14.2],[.18,14.2],[.11,13.9],[-.03,13.8],[.07,13.8],[-.14,13.5],[-.06,13.4],[0,13.5],[.05,13.3],[.13,13.5],[.17,13.1],[.33,13.3],[.31,13.1],[.35,13.0],[1.87,13.1],[-.09,12.6],[-.08,12.3],[.07,12.5],[.18,12.5],[.22,12.5],[.32,12.1],[2.93,11.9],[.02,12.2],[-.01,11.8],[.10,12.0],[.13,11.7],[.19,11.7],[-.03,11.6],[.51,11.5],[-.07,11.3],[.03,11.3],[-.11,10.6],[.24,10.7],[.29,10.7],[.09,11.0],[.65,10.3],[.20,10.2],[-.21,10.0],[-.17,10.0],[.66,9.8],[.53,9.9],[-.21,9.6],[.19,9.7],[.68,9.3],[.43,9.4],[1.36,8.9],[.90,8.9],[.84,8.6],[.34,9.0],[.25,9.0],[-.15,8.9],[-.21,8.5],[.73,8.3],[.58,8.1],[2.56,8.1],[1.96,7.9],[-.22,8.0],[.28,8.4],[.27,7.7],[.34,7.7],[-.24,7.7],[2.71,7.4],[2.01,7.2],[1.88,7.1],[2.86,7.1],[.42,7.5],[.40,7.4],[.68,7.3],[.68,7.1],[.39,7.0],[-.27,7.3],[-.27,7.0],[.99,7.0],[1.0,6.8],[1.07,6.9],[1.12,6.7],[1.34,6.8],[2.29,6.8],[1.98,6.8],[3.15,6.8],[3.98,6.7],[4.62,5.1],[-.28,6.7],[2.56,6.7],[2.80,6.7],[2.75,6.5],[1.68,6.7],[1.65,6.6],[1.61,6.5],[1.58,6.3],[1.68,6.0],[1.69,6.1],[.83,6.5],[.69,6.3],[.34,6.3],[.47,6.3],[.41,6.1],[.55,6.0],[1.79,6.1],[2.07,6.1],[2.42,6.1],[2.43,5.9],[.68,6.0],[.68,5.7],[1.05,5.9],[1.06,5.9],[1.22,5.9],[1.30,5.9],[2.63,5.7],[2.70,5.7],[2.14,5.6],[1.0,5.6],[1.1,5.6],[2.02,5.5],[2.92,5.4],[-.25,6.1],[.88,5.5],[.88,5.2],[1.22,5.3],[1.36,5.4],[1.45,5.2],[2.36,5.2],[2.73,5.3],[2.77,5.2],[3.06,5.2],[2.52,5.2],[2.28,5.2],[2.28,5.0],[1.11,5.1],[1.2,5.0],[1.48,5.0],[1.59,5.0],[1.64,5.0],[1.77,5.0],[1.79,4.9],[1.88,5.0],[2.06,4.8],[2.60,4.8],[2.81,4.6],[2.86,4.6],[2.86,4.4],[2.99,4.5],[.35,4.9],[.42,4.9],[.53,4.9],[.58,4.7],[.66,4.7],[.73,4.6],[.85,4.5],[.89,4.5],[.98,4.5],[1.02,4.6],[1.10,4.4],[1.20,4.6],[1.2,4.3],[1.29,4.4],[1.41,4.6],[1.44,4.5],[1.59,4.4],[1.50,4.3],[1.79,4.6],[1.61,4.1],[2.04,4.1],[2.23,4.0],[2.28,3.95],[2.55,4.2],[2.75,4.2],[3.0,3.95],[3.12,3.85],[3.32,3.75],[3.38,3.85],[3.35,3.3],[3.38,2.25],[3.04,2.6],[2.91,3.3],[2.85,3.5],[2.72,3.7],[2.72,3.4],[2.65,3.3],[2.61,3.5],[2.54,3.7],[2.54,3.4],[2.44,3.55],[2.43,3.2],[2.41,2.9],[2.62,2.9],[2.59,2.7],[2.33,3.0],[2.29,2.85],[2.26,3.55],[2.22,3.55],[2.18,3.55],[2.18,3.05],[2.13,3.3],[2.07,3.1],[2.04,2.9],[2.11,2.5],[2.14,2.3],[1.97,3.7],[1.93,3.7],[1.88,3.8],[1.82,3.85],[1.78,3.5],[1.84,3.4],[1.82,3.1],[1.89,2.9],[1.93,2.7],[1.90,2.2],[1.82,2.4],[1.77,2.2],[1.76,1.6],[1.73,2.4],[1.70,2.95],[1.72,3.05],[1.68,2.75],[1.64,3.35],[1.58,3.7],[1.57,3.15],[1.60,3.0],[1.63,2.45],[1.53,2.4],[1.45,1.7],[1.50,3.0],[1.46,2.95],[1.40,3.0],[1.36,3.6],[1.31,3.25],[1.29,3.6],[1.25,3.85],[1.23,3.55],[1.18,3.7],[1.17,3.15],[1.08,3.75],[1.07,3.35],[1.03,3.6],[.96,3.6],[.92,3.45],[.85,3.45],[.79,3.85],[.79,3.6],[.72,3.9],[.72,3.45],[.66,3.9],[.62,4.0],[.58,4.3],[.52,4.0],[.48,4.25],[.40,4.25],[.35,4.25],[.33,3.75],[.39,3.75],[.46,3.75],[.52,3.45],[.58,3.45],[.35,3.2],[.42,3.2],[.49,2.95],[.56,3.05],[.62,2.95],[.69,3.05],[.81,3.05],[.91,3.2],[1.0,3.05],[1.07,2.65],[.97,2.6],[.91,2.65],[.81,2.8],[.75,2.65],[.79,2.25],[1.12,2.35],[1.28,2.6],[1.28,2.45],[1.35,2.15],[.89,2.15],[.89,1.9],[.66,2.5],[.66,2.15],[.55,2.2],[.48,2.65],[.48,2.25],[.40,2.65],[.35,2.25],[.44,1.9],[.57,1.55],[.45,1.5],[.30,1.0],[-.41,4.65],[-.36,4.9],[-.50,3.85],[-.42,3.85]];
const orangeD = [[-.49,4.75],[-.45,1.7],[0,12.6],[.14,12.5],[-.13,11.8],[0,11.3],[-.10,10.4],[.01,10.65],[.08,10.8],[.16,10.4],[-.15,9.05],[-.12,8.65],[-.15,8.0],[-.21,7.05],[-.18,6.5],[-.24,6.0],[-.33,4.25],[-.35,3.2],[.22,7.45],[.30,5.4],[.31,4.45],[.44,4.15],[.49,3.7],[-.18,.7],[-.32,.9]];
const blueD = [[-.15,12.85],[.05,11.8],[-.01,11.2],[-.18,11.05],[-.02,10.35],[.1,10.4],[-.08,10.0],[.34,10.2],[-.19,8.3],[.24,7.95],[.26,5.85],[-.4,4.2],[-.36,3.9],[-.39,3.6],[-.44,2.55],[-.42,1.7],[-.38,1.5],[.16,8.8]];
const redCoresD = [[[.28,1.2],[.4,1.4],[.5,2.0],[.58,2.6],[.6,3.4],[.52,4.0],[.44,4.7],[.34,5],[.3,5.6],[.28,4]],[[-.08,10.0],[-.06,12],[.04,12.8],[.14,12.4],[.2,10.5],[.18,9.5]],[[-.3,3.6],[-.32,5.2],[-.27,6.6],[-.23,8],[-.19,8],[-.24,6],[-.3,4]]];
const orangeCoreD = [[-.44,1.47],[-.30,.72],[.04,.44],[.25,.94],[.29,2.0],[.29,4.13],[.25,5.73],[.2,7.59],[.15,8.92],[.10,10.3],[.01,10.5],[-.10,9.98],[-.17,8.65],[-.21,6.52],[-.27,4.93],[-.35,3.47],[-.41,2.27]];
const blueCoreD = [[-.38,1.87],[-.30,.81],[.04,.49],[.26,1.08],[.30,2.0],[.30,4.13],[.26,5.73],[.21,7.59],[.15,8.92],[.10,9.71],[.01,9.85],[-.06,9.45],[-.15,8.12],[-.19,6.52],[-.25,4.93],[-.32,3.6],[-.37,2.54]];

const xAxisTitles = ["Global mean 50-5 hPa temperature 1 month earlier (","Global mean 50-5 hPa temperature 1 month later (","Global mean 50-5 hPa temperature 2 months later (","Global mean 50-5 hPa temperature 3 months later ("];
const panelLetters = ["(a)","(b)","(c)","(d)"];

const layouts = [
  {left:123,top:49.5,bottom:692.7,zeroY:673.7,unitY:15.36,titleY:792.5,letterY:33,yTitleMid:373.5},
  {left:1160,top:49.5,bottom:692.7,zeroY:673.7,unitY:15.36,titleY:792.5,letterY:33,yTitleMid:373.5},
  {left:123,top:886.7,bottom:1531.7,zeroY:1510.7,unitY:15.35,titleY:1629,letterY:865,yTitleMid:1210},
  {left:1160,top:886.7,bottom:1531.7,zeroY:1510.7,unitY:15.35,titleY:1629,letterY:865,yTitleMid:1210}
];
const seriesByPanel = [
  {red:redA,orange:orangeA,blue:blueA,redCores:redCoresA,orangeCore:orangeCoreA,blueCore:blueCoreA},
  {red:redB,orange:orangeB,blue:blueB,redCores:redCoresB,orangeCore:orangeCoreB,blueCore:blueCoreB},
  {red:redC,orange:orangeC,blue:blueC,redCores:redCoresC,orangeCore:orangeCoreC,blueCore:blueCoreC},
  {red:redD,orange:orangeD,blue:blueD,redCores:redCoresD,orangeCore:orangeCoreD,blueCore:blueCoreD}
];
const RED = "#ff0000", ORANGE = "#f4b000", BLUE = "#00bfff";
const AX_W = 865, X_ZERO = 117.4, X_UNIT = 153.3, DOT_R = 3.5;
const NS = "http://www.w3.org/2000/svg";
const fig = document.getElementById("figure");

function make(parent, tag, attrs, txt){
  const e = document.createElementNS(NS, tag);
  for (const k in attrs) e.setAttribute(k, attrs[k]);
  if (txt !== undefined) e.textContent = txt;
  parent.appendChild(e);
  return e;
}

layouts.forEach(function(L, i){
  const xAt = function(v){ return L.left + X_ZERO + v * X_UNIT; };
  const yAt = function(v){ return L.zeroY - v * L.unitY; };
  const S = seriesByPanel[i];
  const g = make(fig, "g", {});
  
  

  const corePoints = function(arr){ return arr.map(function(p){ return xAt(p[0]).toFixed(1) + "," + yAt(p[1]).toFixed(1); }).join(" "); };

  S.redCores.forEach(function(arr){
    const rc = make(g, "polygon", {points:corePoints(arr), fill:RED, stroke:RED, "stroke-width":3, "stroke-linejoin":"round"});
    
    
  });
  S.red.forEach(function(p){
    const c = make(g, "circle", {cx:xAt(p[0]).toFixed(1), cy:yAt(p[1]).toFixed(1), r:DOT_R, fill:RED});
    
    
  });
  const oc = make(g, "polygon", {points:corePoints(S.orangeCore), fill:ORANGE, stroke:ORANGE, "stroke-width":2, "stroke-linejoin":"round"});
  
  
  S.orange.forEach(function(p){
    const c = make(g, "circle", {cx:xAt(p[0]).toFixed(1), cy:yAt(p[1]).toFixed(1), r:DOT_R, fill:ORANGE});
    
    
  });
  const bc = make(g, "polygon", {points:corePoints(S.blueCore), fill:BLUE, stroke:BLUE, "stroke-width":3, "stroke-linejoin":"round"});
  
  
  S.blue.forEach(function(p){
    const c = make(g, "circle", {cx:xAt(p[0]).toFixed(1), cy:yAt(p[1]).toFixed(1), r:DOT_R, fill:BLUE});
    
    
  });

  const frame = make(g, "rect", {x:L.left, y:L.top, width:AX_W, height:L.bottom - L.top, fill:"none", stroke:"#000", "stroke-width":2.7});
  
  

  xTickLabels.forEach(function(v){
    const t = make(g, "line", {x1:xAt(v), x2:xAt(v), y1:L.bottom, y2:L.bottom + 13, stroke:"#000", "stroke-width":2.7});
    
    
    const lb = make(g, "text", {x:xAt(v), y:L.bottom + 50.5, "text-anchor":"middle", class:"tick"}, String(v));
    
    
  });
  xMinorTicks.forEach(function(v){
    const t = make(g, "line", {x1:xAt(v), x2:xAt(v), y1:L.bottom, y2:L.bottom + 8, stroke:"#000", "stroke-width":2});
    
    
  });
  yTickLabels.forEach(function(v){
    const t = make(g, "line", {x1:L.left - 13, x2:L.left, y1:yAt(v), y2:yAt(v), stroke:"#000", "stroke-width":2.7});
    
    
    const lb = make(g, "text", {x:L.left - 26, y:yAt(v) + 12.5, "text-anchor":"end", class:"tick"}, String(v));
    
    
  });
  yMinorTicks.forEach(function(v){
    const t = make(g, "line", {x1:L.left - 8, x2:L.left, y1:yAt(v), y2:yAt(v), stroke:"#000", "stroke-width":2});
    
    
  });

  const xt = make(g, "text", {x:L.left + AX_W / 2, y:L.titleY, "text-anchor":"middle", class:"lab"});
  
  
  make(xt, "tspan", {}, xAxisTitles[i] + "\u2009");
  make(xt, "tspan", {dy:-12, "font-size":24}, "\u2218");
  make(xt, "tspan", {dy:12}, "\u2009C)");

  const yTx = L.left - 91;
  const yt = make(g, "text", {x:yTx, y:L.yTitleMid, "text-anchor":"middle", class:"lab", transform:"rotate(-90 " + yTx + " " + L.yTitleMid + ")"});
  
  
  make(yt, "tspan", {}, "Global coarse mineral dust burden (10");
  make(yt, "tspan", {dy:-13, "font-size":24}, "9");
  make(yt, "tspan", {dy:13}, " kg)");

  const pl = make(g, "text", {x:L.left - 8, y:L.letterY, class:"panel-letter"}, panelLetters[i]);
  
  
});

const legendColors = [RED, ORANGE, BLUE];
legendLabels.forEach(function(txt, i){
  const t = make(fig, "text", {x:134.5, y:75.5 + i * 38.3, class:"lab", style:"fill:" + legendColors[i]}, txt);
  
  
});
</script>
</body>
</html>
